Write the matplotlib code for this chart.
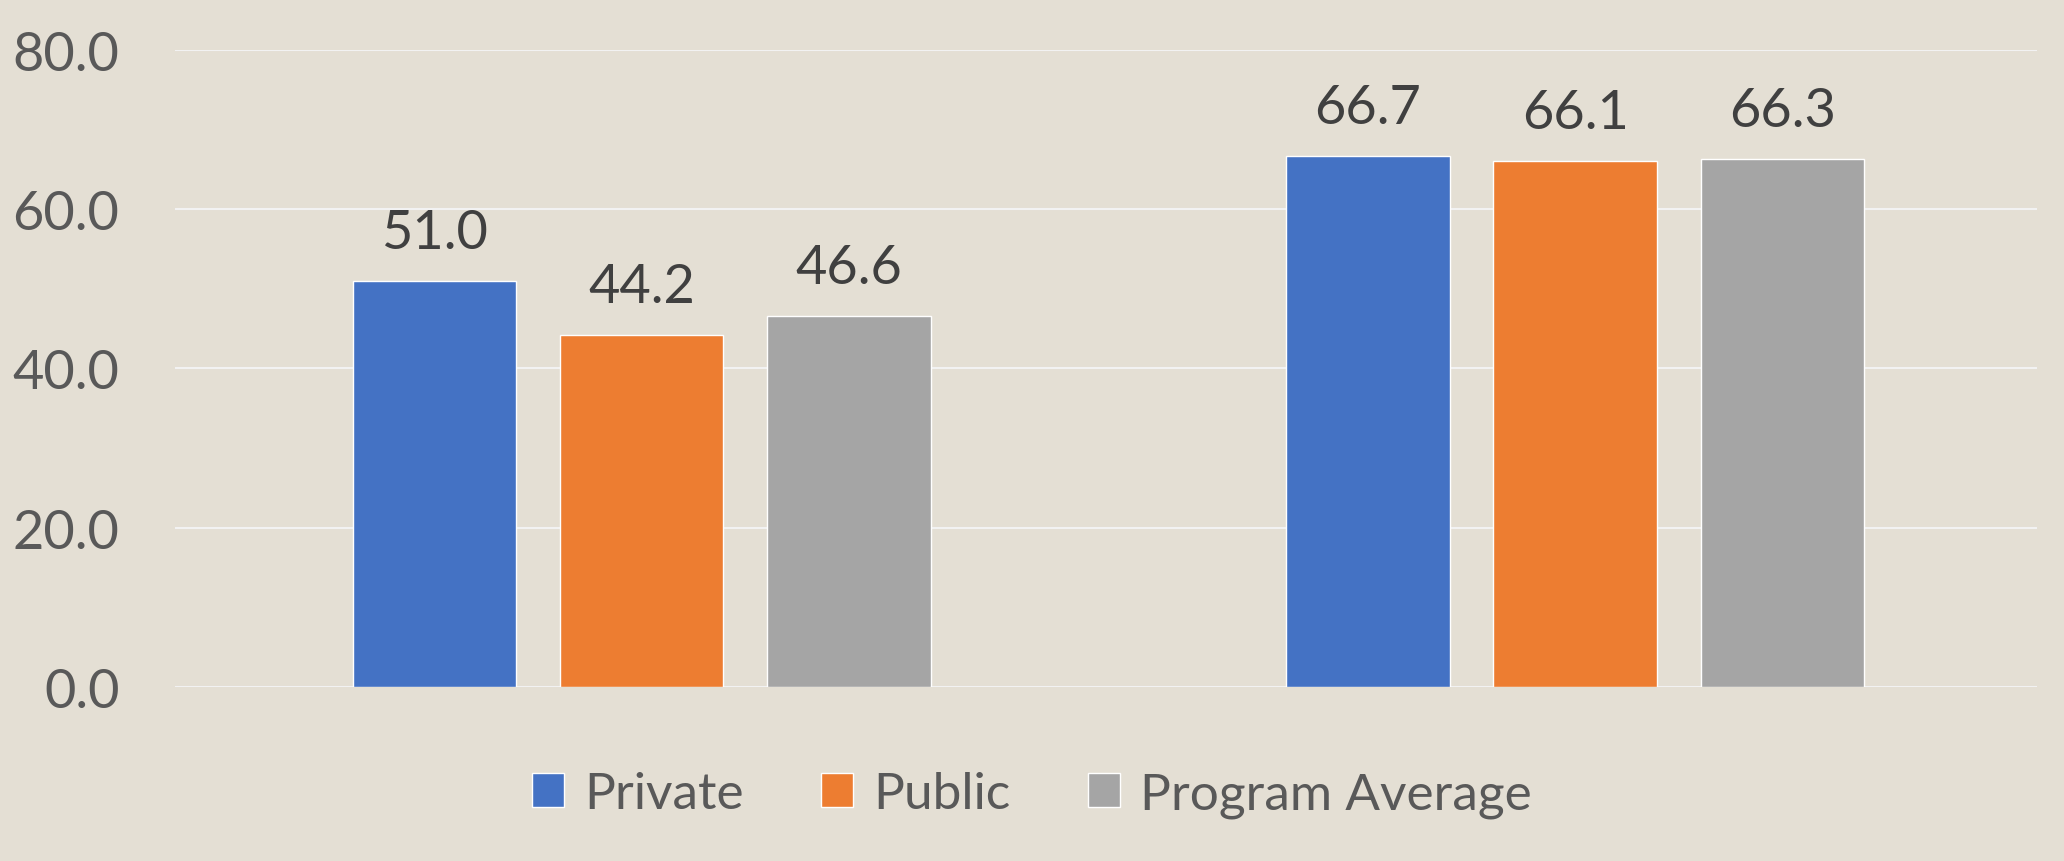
import matplotlib.pyplot as plt
import numpy as np

groups = ['Group 1', 'Group 2']
series = ['Private', 'Public', 'Program Average']
private = [51.0, 66.7]
public = [44.2, 66.1]
program_avg = [46.6, 66.3]
colors = ['#4472C4', '#ED7D31', '#A5A5A5']
yticks = [0, 20, 40, 60, 80]

bg = '#E4DFD4'
plt.rcParams['font.family'] = ['Lato', 'DejaVu Sans']

fig = plt.figure(figsize=(20.64, 8.62), dpi=100, facecolor=bg)
ax = fig.add_axes([0.0848, 0.2019, 0.9022, 0.7389])
ax.set_facecolor(bg)

x = np.arange(len(groups))
w = 0.175
step = 0.222
vals = [private, public, program_avg]
for i, (name, v, c) in enumerate(zip(series, vals, colors)):
    bars = ax.bar(x + (i - 1) * step, v, w, color=c, edgecolor='white',
                  linewidth=1, label=name, zorder=3)
    for b, val in zip(bars, v):
        ax.text(b.get_x() + b.get_width() / 2, val + 3, f'{val:.1f}',
                ha='center', va='bottom', fontsize=39, color='#404040')

ax.set_xlim(-0.5, 1.495)
ax.set_ylim(0, 80)
ax.set_yticks(yticks)
ax.set_yticklabels([f'{t:.1f}' for t in yticks])
ax.tick_params(axis='y', length=0, labelsize=39, labelcolor='#595959', pad=40)
ax.set_xticks([])
ax.grid(axis='y', color='#F2F2F2', linewidth=1.5, zorder=0)
for s in ax.spines.values():
    s.set_visible(False)

leg = fig.legend(loc='center', bbox_to_anchor=(0.5, 0.077), ncol=3,
                 frameon=False, fontsize=37, handlelength=0.62,
                 handleheight=0.65, handletextpad=0.4, columnspacing=1.5)
for t in leg.get_texts():
    t.set_color('#595959')

fig.savefig('out.png', dpi=100, facecolor=bg)
